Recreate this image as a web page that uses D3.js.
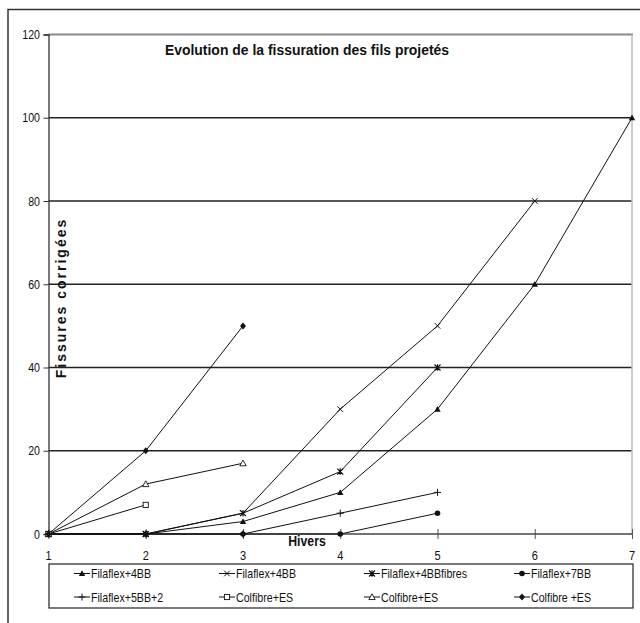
<!DOCTYPE html>
<html><head><meta charset="utf-8">
<script src="https://cdn.jsdelivr.net/npm/d3@7"></script>
<style>
html,body{margin:0;padding:0;background:#fff;}
svg text{font-family:"Liberation Sans",Arial,sans-serif;fill:#111;}
</style></head>
<body><svg id="c" width="640" height="623"></svg>
<script>
const hivers = [1,2,3,4,5,6,7];
const yTicks = [0,20,40,60,80,100,120];
const seriesNames = ["Filaflex+4BB","Filaflex+4BB","Filaflex+4BBfibres","Filaflex+7BB","Filaflex+5BB+2","Colfibre+ES","Colfibre+ES","Colfibre +ES"];
const s1 = [0,0,3,10,30,60,100];
const s2 = [0,0,5,30,50,80];
const s3 = [0,0,5,15,40];
const s4 = [0,0,0,0,5];
const s5 = [0,0,0,5,10];
const s6 = [0,7];
const s7 = [0,12,17];
const s8 = [0,20,50];
const seriesValues = [s1,s2,s3,s4,s5,s6,s7,s8];
const markerTypes = ["triFill","x","star","circle","plus","square","triOpen","diamond"];

const NARROW = 0.82;
const svg = d3.select("#c");
const x = d3.scaleLinear().domain([1,7]).range([48.5,632]);
const y = d3.scaleLinear().domain([0,120]).range([534,34.5]);

function ntext(g, tx, ty, str, size, anchor, bold, sx){
  return g.append("text").attr("transform",`translate(${tx},${ty}) scale(${sx||NARROW},1)`)
    .attr("text-anchor",anchor).attr("font-size",size).attr("font-weight",bold?"bold":"normal").text(str);
}

// outer frame (top + left visible)
svg.append("path").attr("d","M8,623 L8,9.5 L640,9.5").attr("fill","none").attr("stroke","#333").attr("stroke-width",1.5);

// gridlines
svg.append("g").selectAll("line").data(yTicks.filter(d=>d>0 && d<120)).join("line")
  .attr("x1",x(1)).attr("x2",x(7)).attr("y1",d=>y(d)).attr("y2",d=>y(d))
  .attr("stroke","#222").attr("stroke-width",1.3);
svg.append("line").attr("x1",x(1)).attr("x2",x(7)+1).attr("y1",y(120)).attr("y2",y(120)).attr("stroke","#888").attr("stroke-width",2);
svg.append("line").attr("x1",x(7)).attr("x2",x(7)).attr("y1",y(120)).attr("y2",y(0)).attr("stroke","#bbb").attr("stroke-width",1.5);

// y axis
const ya = d3.axisLeft(y).tickValues(yTicks).tickSize(5).tickFormat("");
const gy = svg.append("g").attr("transform",`translate(${x(1)},0)`).call(ya);
gy.select(".domain").attr("stroke","#333").attr("stroke-width",1.3);
gy.selectAll(".tick line").attr("stroke","#333");
yTicks.forEach(t=>ntext(svg, 40, y(t)+4.5, String(t), 13, "end", false));

// x axis with crossing ticks
const xa = d3.axisBottom(x).tickValues(hivers).tickSize(5).tickFormat("");
const gx = svg.append("g").attr("transform",`translate(0,${y(0)})`).call(xa);
gx.select(".domain").remove();
gx.selectAll(".tick line").attr("y1",-5).attr("y2",5).attr("stroke","#555");
hivers.forEach(h=>ntext(svg, x(h), 560, String(h), 13.5, "middle", false));
svg.append("line").attr("x1",x(1)).attr("x2",x(7)).attr("y1",y(0)).attr("y2",y(0)).attr("stroke","#444").attr("stroke-width",1.3);

// marker drawing
function marker(g, type, cx, cy){
  const k = 3.2;
  switch(type){
    case "triFill": g.append("path").attr("d",`M${cx},${cy-k} L${cx+k},${cy+k*0.8} L${cx-k},${cy+k*0.8}Z`).attr("fill","#111"); break;
    case "triOpen": g.append("path").attr("d",`M${cx},${cy-k} L${cx+k},${cy+k*0.8} L${cx-k},${cy+k*0.8}Z`).attr("fill","#fff").attr("stroke","#111").attr("stroke-width",0.9); break;
    case "x": g.append("path").attr("d",`M${cx-2.8},${cy-2.8}L${cx+2.8},${cy+2.8}M${cx-2.8},${cy+2.8}L${cx+2.8},${cy-2.8}`).attr("stroke","#111").attr("stroke-width",1); break;
    case "star": g.append("path").attr("d",`M${cx-3},${cy-3}L${cx+3},${cy+3}M${cx-3},${cy+3}L${cx+3},${cy-3}M${cx},${cy-3.2}L${cx},${cy+3.2}`).attr("stroke","#111").attr("stroke-width",1.2); break;
    case "circle": g.append("circle").attr("cx",cx).attr("cy",cy).attr("r",2.8).attr("fill","#111"); break;
    case "plus": g.append("path").attr("d",`M${cx-3.5},${cy}L${cx+3.5},${cy}M${cx},${cy-3.5}L${cx},${cy+3.5}`).attr("stroke","#111").attr("stroke-width",1); break;
    case "square": g.append("rect").attr("x",cx-2.6).attr("y",cy-2.6).attr("width",5.2).attr("height",5.2).attr("fill","#fff").attr("stroke","#111").attr("stroke-width",0.9); break;
    case "diamond": g.append("path").attr("d",`M${cx},${cy-3.5}L${cx+3},${cy}L${cx},${cy+3.5}L${cx-3},${cy}Z`).attr("fill","#111"); break;
  }
}

const line = d3.line().x((d,i)=>x(hivers[i])).y(d=>y(d));
const gs = svg.append("g");
seriesValues.forEach((vals)=>{
  gs.append("path").attr("d",line(vals)).attr("fill","none").attr("stroke","#111").attr("stroke-width",1);
});
seriesValues.forEach((vals,si)=>{
  vals.forEach((v,i)=>marker(gs, markerTypes[si], x(hivers[i]), y(v)));
});

// titles
ntext(svg, 307, 55, "Evolution de la fissuration des fils projetés", 15, "middle", true, 0.93);
ntext(svg, 307, 546, "Hivers", 15, "middle", true, 0.82);
svg.append("text").attr("transform","translate(66,298) rotate(-90)").attr("text-anchor","middle")
  .attr("font-size",14).attr("font-weight","bold").attr("letter-spacing",2)
  .text("Fissures corrigées");

// legend
const lg = svg.append("g");
lg.append("rect").attr("x",49).attr("y",564).attr("width",584).attr("height",44).attr("fill","#fff").attr("stroke","#222").attr("stroke-width",1.2);
const colX = [74,219,364,514];
const rowY = [573.5,597];
seriesNames.forEach((n,i)=>{
  const cx = colX[i%4], cy = rowY[Math.floor(i/4)];
  lg.append("line").attr("x1",cx).attr("x2",cx+16).attr("y1",cy).attr("y2",cy).attr("stroke","#111").attr("stroke-width",1);
  marker(lg, markerTypes[i], cx+8, cy);
  ntext(lg, cx+17, cy+4.5, n, 13, "start", false);
});
</script></body></html>
